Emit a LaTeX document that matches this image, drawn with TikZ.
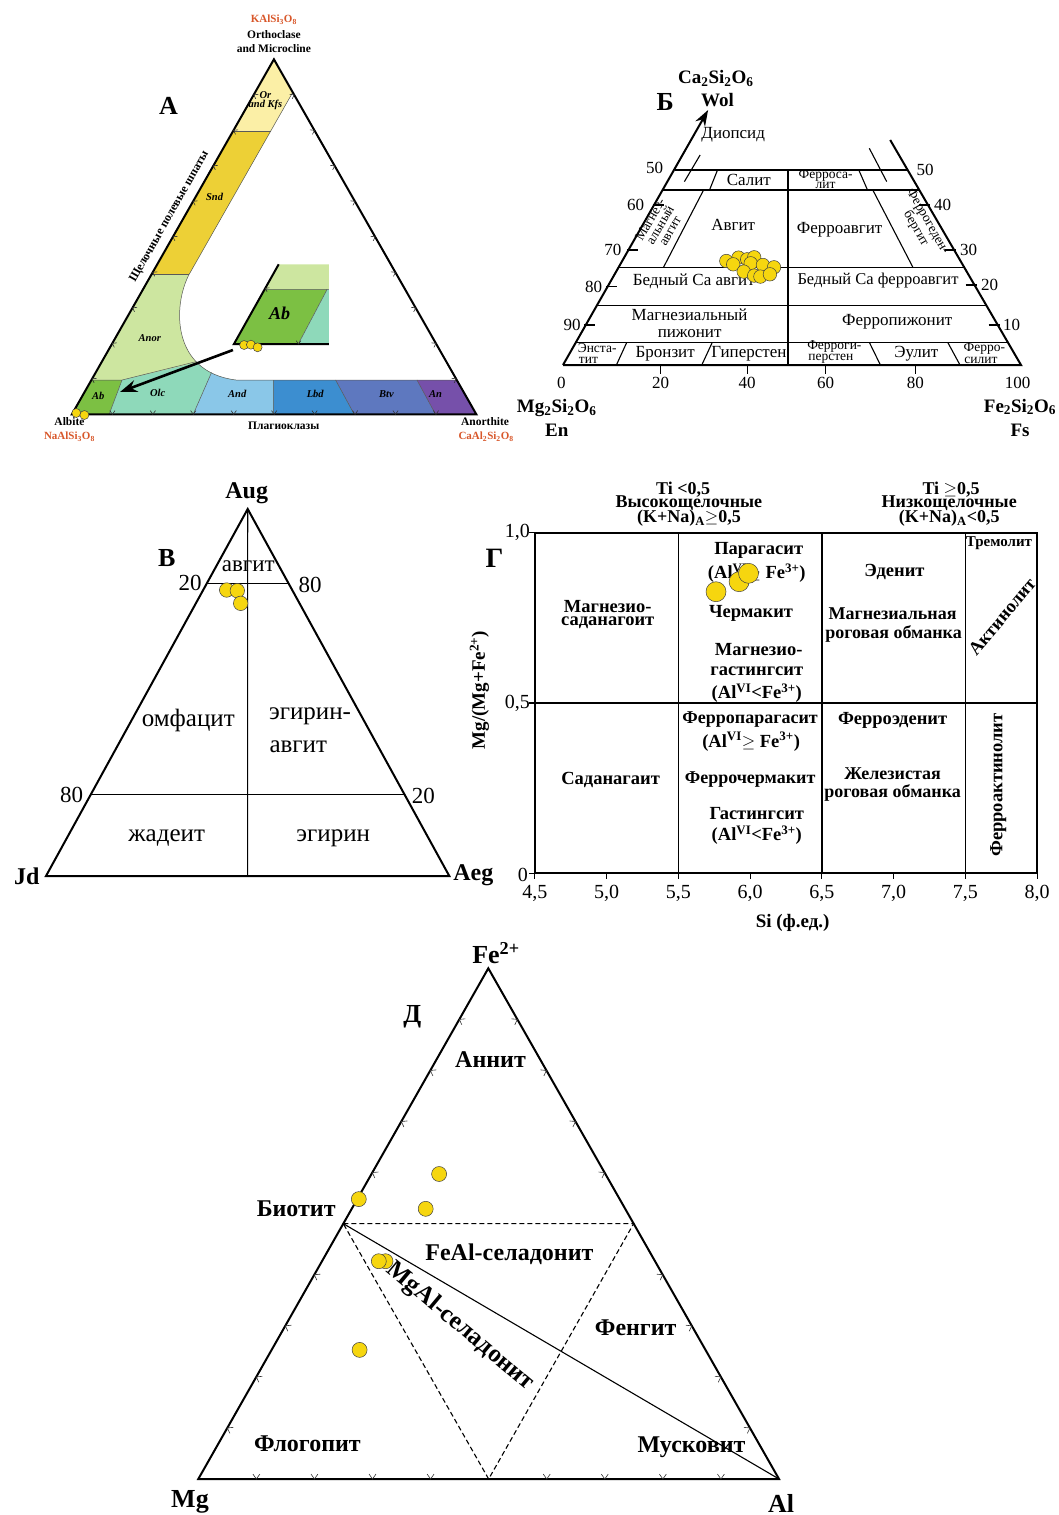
\documentclass[tikz,border=0pt]{standalone}
\usepackage{fontspec}
\setmainfont{Liberation Serif}
\usetikzlibrary{arrows.meta,calc,positioning}

\definecolor{orfill}{HTML}{FBEFA6}
\definecolor{sndfill}{HTML}{EDD036}
\definecolor{anorfill}{HTML}{CDE6A0}
\definecolor{abfill}{HTML}{7CC043}
\definecolor{olcfill}{HTML}{8ED9BA}
\definecolor{andfill}{HTML}{8AC7E8}
\definecolor{lbdfill}{HTML}{3C8ED0}
\definecolor{btvfill}{HTML}{5E78BF}
\definecolor{anfill}{HTML}{7650AA}
\definecolor{formred}{HTML}{D8572A}
\definecolor{dotfill}{HTML}{F6D60F}

\tikzset{
  outline/.style={line width=2pt, line join=miter},
  divline/.style={line width=1.1pt},
  zoneline/.style={draw=black!65, line width=0.5pt},
  tickline/.style={line width=0.6pt, black!80},
  ydot/.style={circle, draw=black!75, line width=0.5pt, fill=dotfill, inner sep=0pt, minimum size=#1},
  panel/.style={inner sep=0pt, font=\bfseries\fontsize{26}{28}\selectfont},
  vtxA/.style={inner sep=0pt, font=\bfseries\fontsize{11.5}{13}\selectfont},
  redA/.style={inner sep=0pt, text=formred, font=\bfseries\fontsize{11}{13}\selectfont},
  fieldA/.style={inner sep=0pt, align=center, font=\bfseries\itshape\fontsize{10.5}{11}\selectfont},
  txtB/.style={inner sep=0pt, align=center, font=\fontsize{17}{19}\selectfont},
  smallB/.style={inner sep=0pt, align=center, font=\fontsize{13.5}{11.5}\selectfont},
  numB/.style={inner sep=0pt, font=\fontsize{17}{19}\selectfont},
  vtxB/.style={inner sep=0pt, font=\bfseries\fontsize{19}{22}\selectfont},
  txtV/.style={inner sep=0pt, font=\fontsize{25}{28}\selectfont},
  vtxV/.style={inner sep=0pt, font=\bfseries\fontsize{24}{26}\selectfont},
  cellG/.style={inner sep=0pt, font=\bfseries\fontsize{18.5}{20}\selectfont},
  wideG/.style={inner sep=0pt, font=\bfseries\fontsize{18}{20}\selectfont},
  headG/.style={inner sep=0pt, font=\bfseries\fontsize{18}{19}\selectfont},
  numG/.style={inner sep=0pt, font=\fontsize{20}{22}\selectfont},
  axG/.style={inner sep=0pt, font=\bfseries\fontsize{19}{21}\selectfont},
  txtD/.style={inner sep=0pt, font=\bfseries\fontsize{24}{26}\selectfont},
  vtxD/.style={inner sep=0pt, font=\bfseries\fontsize{26}{28}\selectfont}
}

% chevron ticks along a side, tip on the side, arms pointing inside
\newcommand{\edgeticks}[4][6pt]{%
  \foreach \f in {#4} {
    \coordinate (tk) at ($(#2)!\f!(#3)$);
    \draw[tickline] ($(tk)!#1!55:(#3)$) -- (tk) -- ($(tk)!#1!125:(#3)$);
  }}

\begin{document}
\begin{tikzpicture}[x=1pt,y=-1pt]
\useasboundingbox (0,0) rectangle (1059,1515);

%%%%% A: feldspars
\begin{scope}[xscale=1.017]
\coordinate (kf) at (269.3,59.3);
\coordinate (ab) at (70.7,414.3);
\coordinate (an) at (468.3,414.3);
\begin{scope}
\clip (kf) -- (287.8,92.4) -- (186,274.3) .. controls (170,305) and (168,372) .. (232,380)
  -- (448.8,380) -- (an) -- (ab) -- cycle;
\fill[anorfill] (60,50) rectangle (480,420);
\fill[orfill] (60,50) rectangle (480,131);
\fill[sndfill] (60,131) rectangle (480,274.3);
\fill[abfill] (60,380) -- (120,380) -- (107.3,414.3) -- (60,414.3) -- cycle;
\fill[olcfill] (107.3,414.3) -- (120,380) -- (196.7,361.7) -- (214.9,356.5) -- (190,414.3) -- cycle;
\fill[andfill] (190,414.3) -- (214.9,356.5) -- (268.7,356.5) -- (268.7,414.3) -- cycle;
\fill[lbdfill] (268.7,380) -- (330,380) -- (348.3,414.3) -- (268.7,414.3) -- cycle;
\fill[btvfill] (330,380) -- (410,380) -- (428.3,414.3) -- (348.3,414.3) -- cycle;
\fill[anfill] (410,380) -- (480,380) -- (480,414.3) -- (428.3,414.3) -- cycle;
\end{scope}
\draw[zoneline] (229.2,131) -- (266.2,131) (149,274.3) -- (186,274.3);
\draw[zoneline] (287.8,92.4) -- (186,274.3) .. controls (170,305) and (168,372) .. (232,380) -- (448.8,380);
\draw[zoneline] (89.8,380) -- (120,380) -- (193,361.6) (120,380) -- (107.3,414.3)
  (208,372.5) -- (190,414.3) (268.7,380) -- (268.7,414.3)
  (330,380) -- (348.3,414.3) (410,380) -- (428.3,414.3);
\draw[outline] (ab) -- (an) -- (kf) -- cycle;
\edgeticks[4.5pt]{ab}{an}{0.1,0.2,0.3,0.4,0.5,0.6,0.7,0.8,0.9}
\edgeticks[4.5pt]{an}{kf}{0.1,0.2,0.3,0.4,0.5,0.6,0.7,0.8,0.9}
\edgeticks[4.5pt]{kf}{ab}{0.1,0.2,0.3,0.4,0.5,0.6,0.7,0.8,0.9}

% enlarged corner
\fill[anorfill] (274,264.3) -- (323.3,264.3) -- (323.3,289.3) -- (260.1,289.3) -- cycle;
\fill[abfill] (260.1,289.3) -- (321.7,289.3) -- (293.3,344) -- (230,344) -- cycle;
\fill[olcfill] (321.7,289.3) -- (323.3,289.3) -- (323.3,344) -- (293.3,344) -- cycle;
\draw[zoneline] (260.1,289.3) -- (323.3,289.3) (321.7,289.3) -- (293.3,344);
\coordinate (ia) at (274,264.3);
\coordinate (ib) at (230,344);
\coordinate (ic) at (323.3,344);
\draw[outline] (ia) -- (ib) -- (ic);
\edgeticks[4pt]{ib}{ic}{0.68}
\edgeticks[4pt]{ia}{ib}{0.3}
\node[fieldA, font=\bfseries\itshape\fontsize{18}{20}\selectfont] (iab) at (275,313) {Ab};

\foreach \px/\py [count=\i] in {240/345, 246.7/344.7, 253.3/347.3, 75/413, 83/415}
  \node[ydot=9pt] (adot\i) at (\px,\py) {};

\coordinate (arS) at (229,350);
\coordinate (arE) at (118,392);
\draw[line width=2.6pt, -{Stealth[length=17pt,width=12pt]}] (arS) -- (arE);

\node[redA] (kfs) at (269.3,20) {KAlSi\textsubscript{3}O\textsubscript{8}};
\node[vtxA] (orth) at (269.3,34.5) {Orthoclase};
\node[vtxA] (micr) at (269.3,48.5) {and Microcline};
\node[vtxA] (albl) at (68.3,421.5) {Albite};
\node[redA] (albf) at (68.3,436.5) {NaAlSi\textsubscript{3}O\textsubscript{8}};
\node[vtxA] (anl) at (477,421.5) {Anorthite};
\node[redA] (anf) at (478,436.5) {CaAl\textsubscript{2}Si\textsubscript{2}O\textsubscript{8}};
\node[vtxA] (plag) at (279,426) {Плагиоклазы};
\node[vtxA, font=\bfseries\fontsize{12}{13}\selectfont, rotate=60.5] (alkf) at (166.7,216.7) {Щелочные полевые шпаты};
\node[panel] (pA) at (165.7,106) {А};
\node[fieldA] (for) at (261,100.5) {Or\\[-2pt]and Kfs};
\node[fieldA] (fsnd) at (211,196.7) {Snd};
\node[fieldA] (fanor) at (147.3,338.3) {Anor};
\node[fieldA] (fab) at (96.7,396) {Ab};
\node[fieldA] (folc) at (155,392.7) {Olc};
\node[fieldA] (fand) at (233.3,394.3) {And};
\node[fieldA] (flbd) at (310,394.3) {Lbd};
\node[fieldA] (fbtv) at (380,394.3) {Btv};
\node[fieldA] (fan) at (428.3,394.3) {An};
\end{scope}

%%%%% Б: pyroxene quadrilateral
\coordinate (en) at (563,365);
\coordinate (fs) at (1021,365);
\coordinate (wol) at (708.1,110);
\coordinate (fstop) at (890.2,140);
\draw[outline, -{Stealth[length=16pt,width=11pt]}] (en) -- (wol);
\draw[outline] (en) -- (fs) -- (fstop);
\draw[divline] (674.6,170) -- (907.6,170)
  (663.2,190) -- (919.3,190)
  (618.9,267.3) -- (964.2,267.3)
  (597,305.6) -- (986.5,305.6)
  (576,342.3) -- (1007.8,342.3)
  (788,170) -- (788,365);
\draw[divline] (717.5,170) -- (709.5,190)
  (858.8,170) -- (867.5,190)
  (703.6,190) -- (663.5,267.3)
  (872.8,190) -- (912.9,267.3)
  (626.8,342.3) -- (616.4,365)
  (712.3,342.3) -- (701.8,365)
  (869.3,342.3) -- (880.4,365)
  (947.7,342.3) -- (960,365)
  (700.1,155) -- (684.4,181.6)
  (869.3,148.3) -- (886.7,181.6);
% scale ticks
\draw[divline] (652.6,205) -- (663.6,205) (626.8,250) -- (637.8,250)
  (605.9,286.6) -- (616.9,286.6) (583.9,325) -- (594.9,325);
\draw[divline] (919,205) -- (930,205) (945.1,250) -- (956.1,250)
  (965.5,285) -- (976.5,285) (988.7,325) -- (999.7,325);
\foreach \bx in {660.7,747.2,825.7,915.3}
  \draw[divline] (\bx,365) -- (\bx,374);

\node[numB] (bl50) at (654.7,168.3) {50};
\node[numB] (bl60) at (635.6,205) {60};
\node[numB] (bl70) at (612.9,250) {70};
\node[numB] (bl80) at (593.7,286.6) {80};
\node[numB] (bl90) at (572.1,325) {90};
\node[numB] (br50) at (925,170) {50};
\node[numB] (br40) at (942.5,205) {40};
\node[numB] (br30) at (968.7,250) {30};
\node[numB] (br20) at (989.6,285) {20};
\node[numB] (br10) at (1011.6,325) {10};
\node[numB] (bb0) at (561.3,383.3) {0};
\node[numB] (bb20) at (660.7,383.3) {20};
\node[numB] (bb40) at (747.2,383.3) {40};
\node[numB] (bb60) at (825.7,383.3) {60};
\node[numB] (bb80) at (915.3,383.3) {80};
\node[numB] (bb100) at (1017.5,383.3) {100};

\node[vtxB] (bcaf) at (715.8,78.3) {Ca\textsubscript{2}Si\textsubscript{2}O\textsubscript{6}};
\node[vtxB] (bwol) at (717.5,100) {Wol};
\node[panel] (pB) at (665.2,101.6) {Б};
\node[vtxB] (bmgf) at (556.7,408) {Mg\textsubscript{2}Si\textsubscript{2}O\textsubscript{6}};
\node[vtxB] (ben) at (556.7,430) {En};
\node[vtxB] (bfef) at (1020,407) {Fe\textsubscript{2}Si\textsubscript{2}O\textsubscript{6}};
\node[vtxB] (bfs) at (1020,430) {Fs};

\node[txtB] (bdiop) at (733.2,135) {Диопсид};
\node[txtB] (bsal) at (748.9,180) {Салит};
\node[smallB] (bfsal1) at (825.6,175.5) {Ферроса-};
\node[smallB] (bfsal2) at (825.6,185.5) {лит};
\node[smallB, rotate=60] (bmgaug) at (660,225) {Магнез-\\альный\\авгит};
\node[txtB] (baug) at (733.2,225) {Авгит};
\node[txtB] (bfaug) at (839.6,230) {Ферроавгит};
\node[smallB, rotate=-60] (bfhed) at (921.6,225) {Феррогеден-\\бергит};
\node[txtB] (bpcaug) at (693.8,281) {Бедный Ca авгит};
\node[txtB, font=\fontsize{16.5}{18}\selectfont] (bpcfaug) at (878,281) {Бедный Ca ферроавгит};
\node[txtB] (bmgpig1) at (689.6,315) {Магнезиальный};
\node[txtB] (bmgpig2) at (689.6,333.3) {пижонит};
\node[txtB] (bfpig) at (897.2,321.6) {Ферропижонит};
\node[smallB] (benst1) at (597.2,348.3) {Энста-};
\node[smallB] (benst2) at (588.5,360) {тит};
\node[txtB] (bbronz) at (665.2,353.3) {Бронзит};
\node[txtB] (bhyp) at (748.9,353.3) {Гиперстен};
\node[smallB] (bfhyp1) at (834.4,346.6) {Ферроги-};
\node[smallB] (bfhyp2) at (830.9,358.3) {перстен};
\node[txtB] (beul) at (916.4,353.3) {Эулит};
\node[smallB] (bfsil1) at (984.4,348.3) {Ферро-};
\node[smallB] (bfsil2) at (980.9,360) {силит};

\foreach \px/\py [count=\i] in {726.3/261, 738.5/257.6, 747.2/259.3, 754.2/257.3,
    733.2/264.3, 750.7/263.3, 762.9/265, 774/267.3, 743.7/271.6, 754.2/275.6,
    760.4/276.6, 769.9/274.3}
  \node[ydot=13.5pt] (bdot\i) at (\px,\py) {};

%%%%% В: Jd - Aug - Aeg
\coordinate (aug) at (247.7,509);
\coordinate (jd) at (46,876);
\coordinate (aeg) at (449.3,876);
\draw[outline] (jd) -- (aeg) -- (aug) -- cycle;
\draw[divline] (aug) -- ($(jd)!0.5!(aeg)$);
\draw[divline] ($(aug)!0.2025!(jd)$) -- ($(aug)!0.2025!(aeg)$);
\draw[divline] ($(aug)!0.7774!(jd)$) -- ($(aug)!0.7774!(aeg)$);

\node[vtxV] (vaug) at (246.7,493.3) {Aug};
\node[vtxV] (vjd) at (26.7,876) {Jd};
\node[vtxV] (vaeg) at (473.3,875) {Aeg};
\node[panel] (pV) at (166.7,558.3) {В};
\node[txtV, font=\fontsize{23}{25}\selectfont] (vavg) at (248.3,566.7) {авгит};
\node[txtV, font=\fontsize{23}{25}\selectfont] (v20a) at (190,583.3) {20};
\node[txtV, font=\fontsize{23}{25}\selectfont] (v80a) at (310,585) {80};
\node[txtV] (vomf) at (188.3,720) {омфацит};
\node[txtV] (vegi1) at (310,716.7) {эгирин-};
\node[txtV] (vegi2) at (298.3,746.7) {авгит};
\node[txtV, font=\fontsize{23}{25}\selectfont] (v80b) at (71.7,795) {80};
\node[txtV, font=\fontsize{23}{25}\selectfont] (v20b) at (423.3,796) {20};
\node[txtV] (vjad) at (166.7,838.3) {жадеит};
\node[txtV] (vegir) at (333.3,838.3) {эгирин};

\foreach \px/\py [count=\i] in {226.7/590, 237.3/590.7, 240.7/603.3}
  \node[ydot=14.5pt] (vdot\i) at (\px,\py) {};

%%%%% Г: amphibole field
\coordinate (g00) at (534.9,873.3);
\coordinate (g11) at (1037.2,532.7);
\draw[outline] (g00) rectangle (g11);
\draw[line width=1.6pt] (678.4,532.7) -- (678.4,873.3)
  (821.9,532.7) -- (821.9,873.3)
  (965.4,532.7) -- (965.4,873.3)
  (534.9,703) -- (1037.2,703);
\foreach \gy in {532.7,703,873.3}
  \draw[divline] (529,\gy) -- (534.9,\gy);
\foreach \gx/\gl [count=\i] in {534.9/{4,5},606.6/{5,0},678.4/{5,5},750.1/{6,0},
    821.9/{6,5},893.6/{7,0},965.4/{7,5},1037.2/{8,0}} {
  \draw[divline] (\gx,873.3) -- (\gx,879);
  \node[numG] (gx\i) at (\gx,893.3) {\gl};
}
\node[numG, anchor=east] (gy1) at (530,532.7) {1,0};
\node[numG, anchor=east] (gy2) at (530,703.3) {0,5};
\node[numG, anchor=east] (gy3) at (528,875) {0};
\node[axG] (gxlab) at (792.6,923.3) {Si (ф.ед.)};
\node[axG, rotate=90] (gylab) at (479.4,690) {Mg/(Mg+Fe\textsuperscript{2+})};
\node[panel, font=\bfseries\fontsize{28}{30}\selectfont] (pG) at (494.5,558.3) {Г};

\node[headG] (gh1) at (683.2,490) {Ti <0,5};
\node[headG] (gh2) at (688.9,503.3) {Высокощелочные};
\node[headG] (gh3) at (688.9,518.3) {(K+Na)\textsubscript{A}$\geq$0,5};
\node[headG] (gh4) at (951.1,490) {Ti $\geq$0,5};
\node[headG] (gh5) at (949.2,503.3) {Низкощелочные};
\node[headG] (gh6) at (949.2,518.3) {(K+Na)\textsubscript{A}<0,5};

\node[cellG] (gmsad1) at (607.7,606.7) {Магнезио-};
\node[cellG] (gmsad2) at (607.7,622.7) {саданагоит};
\node[cellG] (gpar1) at (758.7,550) {Парагасит};
\node[cellG] (gpar2) at (756.8,573.3) {(Al\textsuperscript{VI}$\geq$ Fe\textsuperscript{3+})};
\node[cellG] (gcher) at (751.1,613.3) {Чермакит};
\node[cellG] (gmhas1) at (758.7,650) {Магнезио-};
\node[cellG] (gmhas2) at (756.8,671.7) {гастингсит};
\node[cellG] (gmhas3) at (756.8,693.3) {(Al\textsuperscript{VI}<Fe\textsuperscript{3+})};
\node[cellG] (geden) at (894.5,571.7) {Эденит};
\node[wideG] (gmhb1) at (892.6,613.3) {Магнезиальная};
\node[wideG] (gmhb2) at (893.5,634) {роговая обманка};
\node[cellG, font=\bfseries\fontsize{15}{16}\selectfont] (gtrem) at (999,542.7) {Тремолит};
\node[cellG, rotate=50] (gact) at (1002,616.7) {Актинолит};
\node[cellG, font=\bfseries\fontsize{18}{20}\selectfont] (gfpar1) at (750.1,720) {Ферропарагасит};
\node[cellG] (gfpar2) at (751.1,741.7) {(Al\textsuperscript{VI}$\geq$ Fe\textsuperscript{3+})};
\node[cellG] (gfed) at (892.6,720) {Ферроэденит};
\node[cellG] (gsad) at (610.6,780) {Саданагаит};
\node[cellG, font=\bfseries\fontsize{18}{20}\selectfont] (gfcher) at (750.1,780) {Феррочермакит};
\node[wideG] (gfhb1) at (892.6,773.3) {Железистая};
\node[wideG] (gfhb2) at (892.6,793.3) {роговая обманка};
\node[cellG] (ghas1) at (756.8,813.3) {Гастингсит};
\node[cellG] (ghas2) at (756.8,835) {(Al\textsuperscript{VI}<Fe\textsuperscript{3+})};
\node[cellG, rotate=90] (gfact) at (998.3,785) {Ферроактинолит};

\foreach \px/\py [count=\i] in {716/591.7, 739.1/581.7, 748.5/573.3}
  \node[ydot=20pt] (gdot\i) at (\px,\py) {};

%%%%% Д: micas
\coordinate (fe) at (488.3,968.3);
\coordinate (mg) at (198.3,1479);
\coordinate (al) at (779,1479);
\coordinate (bt) at ($(fe)!0.5!(mg)$);
\coordinate (rm) at ($(fe)!0.5!(al)$);
\coordinate (bm) at ($(mg)!0.5!(al)$);
\draw[outline] (mg) -- (al) -- (fe) -- cycle;
\draw[divline] (bt) -- (al);
\draw[divline, dash pattern=on 5pt off 3pt] (bt) -- (rm) -- (bm) -- cycle;
\edgeticks{mg}{al}{0.1,0.2,0.3,0.4,0.6,0.7,0.8,0.9}
\edgeticks{al}{fe}{0.1,0.2,0.3,0.4,0.6,0.7,0.8,0.9}
\edgeticks{fe}{mg}{0.1,0.2,0.3,0.4,0.6,0.7,0.8,0.9}

\node[vtxD] (dfe) at (496,953) {Fe\textsuperscript{2+}};
\node[vtxD] (dmg) at (190,1502) {Mg};
\node[vtxD] (dal) at (781,1503) {Al};
\node[panel] (pD) at (412.3,1016.9) {Д};
\node[txtD] (dann) at (490.5,1060) {Аннит};
\node[txtD] (dbio) at (296.2,1208.8) {Биотит};
\node[txtD] (dfeal) at (509.4,1254.5) {FeAl-селадонит};
\node[txtD, font=\bfseries\fontsize{25}{27}\selectfont, rotate=-40] (dmgal) at (460.2,1326.6) {MgAl-селадонит};
\node[txtD] (dfen) at (635.7,1327.4) {Фенгит};
\node[txtD] (dflo) at (307.4,1443.4) {Флогопит};
\node[txtD] (dmus) at (691.5,1447.1) {Мусковит};

\foreach \px/\py [count=\i] in {439.1/1174, 358.8/1199.1, 425.7/1208.8,
    385.5/1261.2, 378.8/1261.2, 359.6/1349.9}
  \node[ydot=15pt] (ddot\i) at (\px,\py) {};
\end{tikzpicture}
\end{document}
